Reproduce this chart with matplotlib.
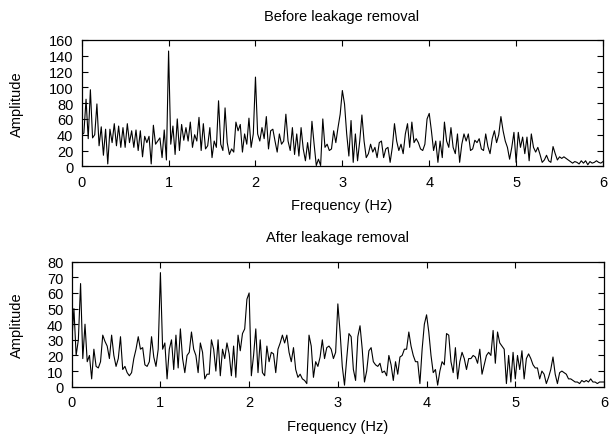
import matplotlib
matplotlib.use("Agg")
import matplotlib.pyplot as plt
import numpy as np

plt.rcParams['font.family'] = ['Liberation Sans', 'DejaVu Sans']
fs = 10.5
plt.rcParams['font.size'] = fs

df = 0.025  # frequency bin width in Hz

# amplitude spectrum before leakage removal (0 .. 6 Hz)
amp_before = [
    40, 42, 85, 35, 97, 36, 40, 79, 26, 50,
    14, 47, 3, 47, 30, 54, 26, 51, 24, 49,
    24, 54, 30, 45, 24, 46, 20, 45, 12, 38,
    30, 38, 3, 52, 28, 32, 36, 11, 46, 8,
    146, 28, 51, 15, 60, 20, 53, 33, 49, 32,
    56, 24, 40, 32, 62, 20, 54, 22, 26, 49,
    11, 32, 24, 83, 28, 20, 74, 30, 15, 22,
    18, 56, 45, 53, 18, 41, 28, 61, 24, 41,
    113, 41, 32, 49, 35, 63, 22, 45, 47, 32,
    18, 41, 28, 32, 66, 32, 20, 49, 15, 41,
    13, 49, 22, 7, 30, 9, 57, 28, 1, 9,
    1, 60, 24, 28, 20, 22, 45, 30, 49, 66,
    96, 79, 41, 13, 58, 5, 41, 7, 32, 65,
    32, 11, 16, 28, 18, 24, 11, 30, 32, 11,
    22, 24, 5, 24, 54, 32, 20, 28, 16, 41,
    54, 24, 56, 30, 35, 30, 22, 20, 28, 60,
    67, 45, 20, 32, 5, 32, 11, 56, 32, 24,
    49, 24, 16, 41, 5, 28, 41, 32, 41, 20,
    22, 33, 30, 35, 22, 20, 41, 25, 16, 35,
    45, 30, 40, 63, 45, 32, 24, 9, 24, 43,
    5, 43, 24, 37, 16, 37, 7, 41, 24, 18,
    24, 15, 5, 8, 14, 7, 5, 25, 16, 8,
    12, 10, 12, 10, 8, 6, 4, 6, 5, 3,
    7, 4, 7, 2, 6, 4, 5, 7, 5, 4,
    6,
]

# amplitude spectrum after leakage removal
amp_after = [
    28, 50, 20, 30, 66, 18, 40, 16, 20, 5,
    24, 13, 12, 16, 33, 29, 26, 18, 33, 20,
    13, 18, 32, 11, 13, 9, 7, 9, 18, 24,
    32, 24, 25, 14, 13, 16, 32, 19, 13, 24,
    73, 24, 28, 5, 24, 30, 11, 33, 12, 37,
    18, 9, 20, 22, 35, 24, 20, 9, 28, 22,
    5, 8, 8, 30, 24, 10, 30, 7, 24, 18,
    28, 21, 7, 26, 6, 33, 23, 34, 37, 56,
    60, 7, 20, 37, 9, 30, 9, 7, 26, 16,
    22, 21, 9, 24, 28, 33, 28, 33, 22, 16,
    25, 11, 6, 8, 5, 4, 2, 33, 26, 6,
    16, 13, 19, 30, 18, 25, 26, 24, 18, 22,
    53, 35, 13, 1, 18, 34, 32, 11, 4, 32,
    39, 24, 3, 10, 23, 25, 16, 14, 13, 15,
    9, 10, 7, 20, 14, 4, 16, 8, 19, 20,
    24, 24, 35, 26, 20, 16, 16, 2, 24, 40,
    46, 35, 20, 9, 11, 1, 10, 16, 14, 34,
    33, 16, 9, 25, 5, 16, 22, 18, 11, 18,
    18, 20, 19, 15, 24, 8, 14, 20, 22, 20,
    36, 15, 35, 28, 26, 24, 2, 20, 3, 22,
    5, 20, 11, 23, 5, 18, 21, 18, 14, 12,
    12, 5, 10, 8, 2, 6, 11, 19, 8, 2,
    9, 10, 9, 8, 5, 5, 4, 3, 3, 2,
    4, 3, 4, 3, 5, 3, 3, 2, 3, 3,
    3,
]

freq = np.arange(len(amp_before)) * df

W, H = 611, 435
fig = plt.figure(figsize=(W / 100, H / 100), dpi=100)


def px(x0, y0, x1, y1):
    # pixel box -> figure fraction rect
    return [x0 / W, 1 - y1 / H, (x1 - x0) / W, (y1 - y0) / H]


def style(ax, ymax, ystep):
    ax.set_xlim(0, 6)
    ax.set_ylim(0, ymax)
    ax.set_xticks(range(7))
    ax.set_yticks(np.arange(0, ymax + 1, ystep))
    ax.tick_params(direction='in', top=True, right=True, length=4.5,
                   width=0.8, labelsize=fs)
    ax.tick_params(axis='x', pad=6)
    ax.tick_params(axis='y', pad=6)
    for s in ax.spines.values():
        s.set_linewidth(0.9)


ax1 = fig.add_axes(px(81.7, 41, 603, 167.3))
ax1.plot(freq, amp_before, color='black', lw=0.8)
style(ax1, 160, 20)

ax2 = fig.add_axes(px(71.7, 262.7, 604, 387.7))
ax2.plot(freq, amp_after, color='black', lw=0.8)
style(ax2, 80, 10)

fig.text(342 / W, 1 - 21 / H, 'Before leakage removal', ha='center', va='baseline')
fig.text(342 / W, 1 - 210 / H, 'Frequency (Hz)', ha='center', va='baseline')
fig.text(17 / W, 1 - 104 / H, 'Amplitude', ha='center', va='center', rotation=90)

fig.text(338 / W, 1 - 242 / H, 'After leakage removal', ha='center', va='baseline')
fig.text(338 / W, 1 - 431 / H, 'Frequency (Hz)', ha='center', va='baseline')
fig.text(17 / W, 1 - 325 / H, 'Amplitude', ha='center', va='center', rotation=90)

fig.savefig('out.png', dpi=100)
